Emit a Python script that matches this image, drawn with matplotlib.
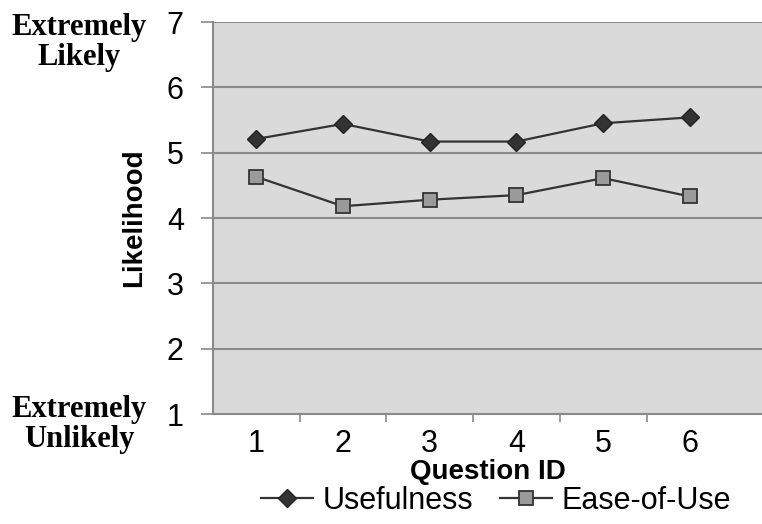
import matplotlib
matplotlib.use("Agg")
import matplotlib.pyplot as plt
import numpy as np

# survey data
questions = [1, 2, 3, 4, 5, 6]
usefulness = [5.21, 5.44, 5.17, 5.17, 5.45, 5.54]
ease_of_use = [4.63, 4.18, 4.28, 4.35, 4.61, 4.33]
y_ticks = [1, 2, 3, 4, 5, 6, 7]

plt.rcParams['font.family'] = ['Liberation Sans', 'DejaVu Sans']

fig = plt.figure(figsize=(7.62, 5.24), dpi=100)
ax = fig.add_axes([213 / 762, 1 - 414 / 524, 1 - 213 / 762, (414 - 22) / 524])
ax.set_facecolor('#dadada')

ax.plot(questions, usefulness, color='#333333', lw=1.6, marker='D',
        ms=9, mfc='#333333', mec='#222222', label='Usefulness', zorder=3)
ax.plot(questions, ease_of_use, color='#333333', lw=1.6, marker='s',
        ms=10, mfc='#9a9a9a', mec='#333333', mew=1.3, label='Ease-of-Use', zorder=3)

ax.set_ylim(1, 7)
ax.set_xlim(0.5, 0.5 + 549 / 86.7)
ax.set_yticks(y_ticks)
ax.set_xticks(questions)
ax.set_xticks(np.arange(1.5, 6, 1), minor=True)
ax.yaxis.grid(True, color='#8a8a8a', lw=1.5)
ax.set_axisbelow(True)

for s in ['top', 'right']:
    ax.spines[s].set_visible(False)
for s in ['left', 'bottom']:
    ax.spines[s].set_color('#8a8a8a')
    ax.spines[s].set_linewidth(1.5)

ax.tick_params(axis='y', length=9, color='#8a8a8a', width=1.2, labelsize=22, pad=12)
ax.tick_params(axis='x', which='major', length=0, labelsize=22, pad=11)
ax.tick_params(axis='x', which='minor', length=6, color='#8a8a8a', width=1.2)

ax.set_ylabel('Likelihood', fontsize=20, fontweight='bold', labelpad=14)
ax.set_xlabel('Question ID', fontsize=20, fontweight='bold', labelpad=0)

serif = dict(family='Liberation Serif', fontweight='bold', fontsize=22,
             ha='center', va='center')
fig.text(79 / 762, 1 - 27 / 524, 'Extremely', **serif)
fig.text(79 / 762, 1 - 57 / 524, 'Likely', **serif)
fig.text(79 / 762, 1 - 410 / 524, 'Extremely', **serif)
fig.text(79 / 762, 1 - 440 / 524, 'Unlikely', **serif)

fig.legend(loc='center', bbox_to_anchor=(496 / 762, 1 - 501 / 524), ncol=2,
           frameon=False, fontsize=22, handlelength=1.7, handletextpad=0.3,
           columnspacing=0.9, borderaxespad=0)

fig.savefig('out.png', dpi=100)
